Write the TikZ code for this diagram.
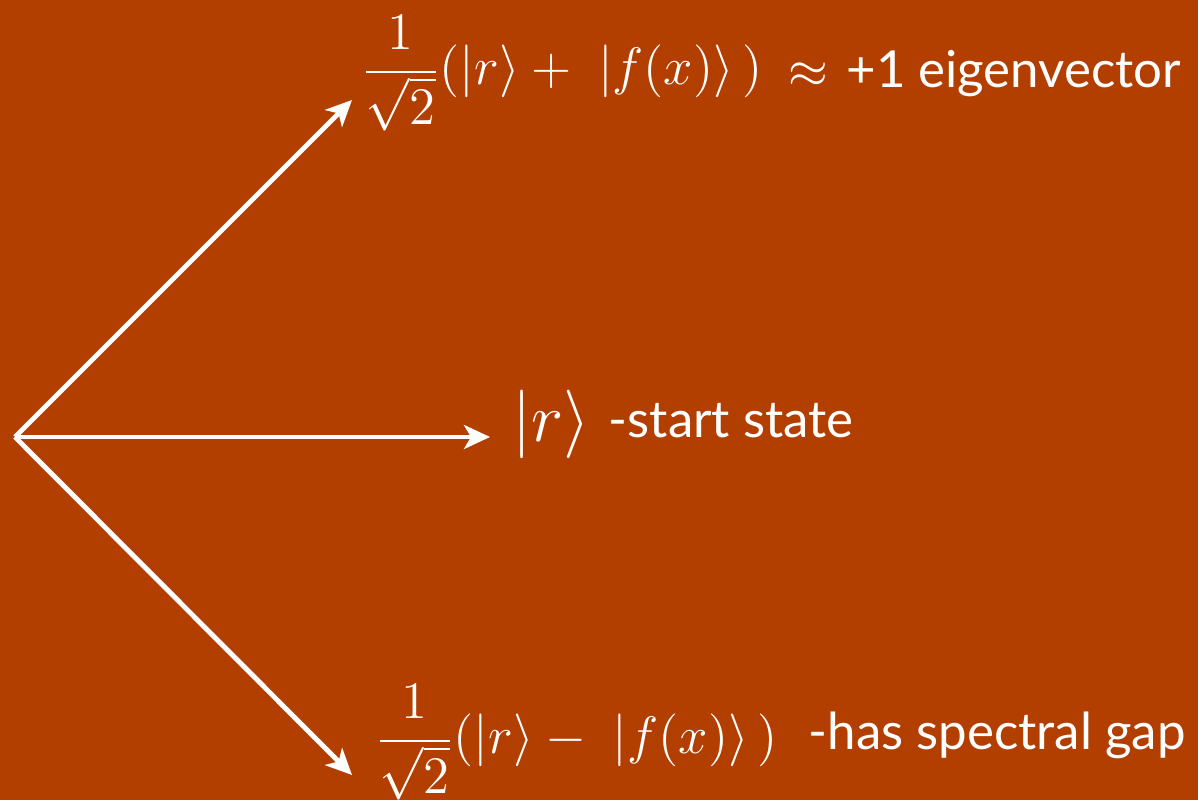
\documentclass[tikz,border=0pt]{standalone}
\usepackage{fix-cm}
\usepackage{fontspec}
\usepackage{tikz}
\usetikzlibrary{arrows.meta,positioning}
\newfontfamily\labelfont{Lato}
\definecolor{rust}{HTML}{B23F00}
\tikzset{
  vec/.style={-{Stealth[length=2.6mm,width=2.4mm,inset=0.7mm]}, line width=1.4pt, draw=white},
  mlabel/.style={inner sep=0pt, text=white, font=\fontsize{15}{18}\selectfont, anchor=base west},
  bigmlabel/.style={mlabel, font=\fontsize{19.5}{23}\selectfont},
  tlabel/.style={inner sep=0pt, text=white, font=\labelfont\fontsize{14.5}{17}\selectfont, anchor=base west},
}
\begin{document}
\begin{tikzpicture}
  % background
  \fill[rust] (0,0) rectangle (11.98,8);
  \useasboundingbox (0,0) rectangle (11.98,8);
  % origin and tips
  \coordinate (o) at (0.15,3.63);
  \coordinate (tipup) at (3.52,7.00);
  \coordinate (tipmid) at (4.90,3.63);
  \coordinate (tipdown) at (3.52,0.25);
  % labels
  \node[mlabel](plus) at (3.61,7.15){$\displaystyle\frac{1}{\sqrt{2}}(|r\rangle+\;|f(x)\rangle\,)$};
  \node[tlabel](eig) at (7.88,7.12){$\approx$\hspace{0.1em} +1 eigenvector};
  \node[bigmlabel](ket) at (5.12,3.58){$|r\rangle$};
  \node[tlabel](start) at (6.08,3.62){-start state};
  \node[mlabel](minus) at (3.75,0.46){$\displaystyle\frac{1}{\sqrt{2}}(|r\rangle-\;|f(x)\rangle\,)$};
  \node[tlabel](gap) at (8.08,0.50){-has spectral gap};
  % arrows
  \draw[vec] (o) -- (tipup);
  \draw[vec] (o) -- (tipmid);
  \draw[vec] (o) -- (tipdown);
\end{tikzpicture}
\end{document}
